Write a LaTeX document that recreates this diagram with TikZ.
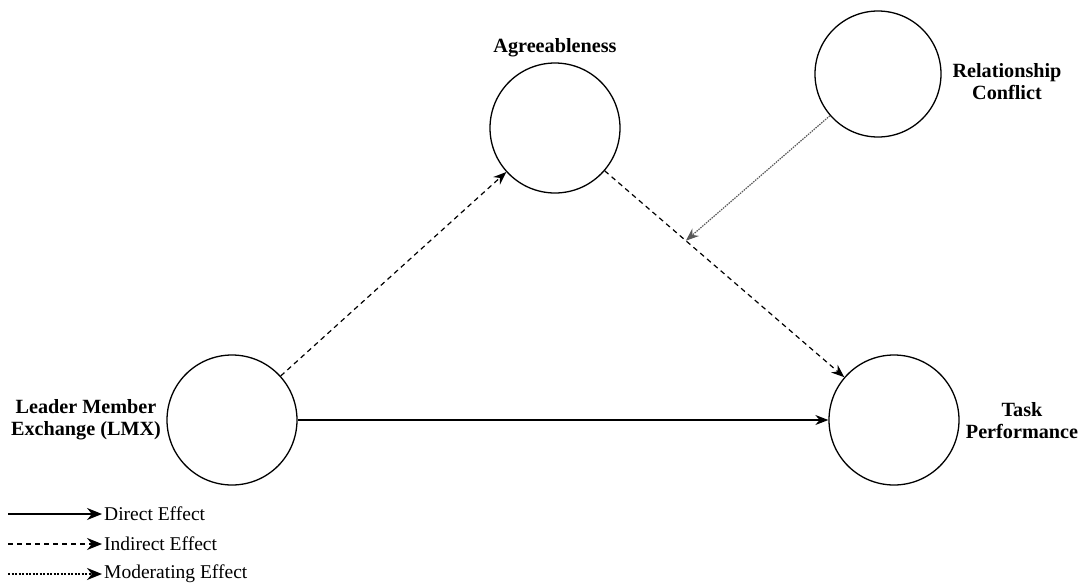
\documentclass[tikz,border=0pt]{standalone}
\usepackage{fontspec}
\setmainfont{Liberation Serif}
\newfontfamily\timesfont{Liberation Serif}
\usepackage{tikz}
\usetikzlibrary{calc,arrows.meta}

\tikzset{
  construct/.style={draw,circle,line width=1.3pt,minimum size=130pt,inner sep=0pt},
  clabel/.style={font=\timesfont\fontsize{20.2}{22}\selectfont\bfseries,align=center},
  ltext/.style={font=\timesfont\fontsize{19.5}{22}\selectfont,anchor=west,inner sep=2pt},
  direct/.style={->,line width=1.2pt},
  indirect/.style={->,line width=1.2pt,dash pattern=on 5pt off 4pt},
  moderating/.style={->,line width=1.2pt,gray!70!black,dash pattern=on 1.5pt off 1pt},
  >={Stealth[length=13pt,width=10pt]}
}

\begin{document}
\begin{tikzpicture}[x=1pt,y=-1pt]
  \useasboundingbox (0,0) rectangle (1080,584);

  % constructs
  \node[construct] (lmx)   at (232,420) {};
  \node[construct] (agree) at (555,128) {};
  \node[construct] (task)  at (894,420) {};
  \node[construct,minimum size=126pt] (rc) at (878,74) {};

  % labels
  \node[clabel] (lmxlab)   at (86,420)  {Leader Member\\Exchange (LMX)};
  \node[clabel] (agreelab) at (555,48)  {Agreeableness};
  \node[clabel] (tasklab)  at (1022,421) {Task\\Performance};
  \node[clabel] (rclab)    at (1007,82) {Relationship\\Conflict};

  % paths
  \draw[direct] (lmx) -- (task);
  \draw[indirect] (lmx) -- (agree);
  \draw[indirect] (agree) -- (task);
  \coordinate (modpt) at ($(agree)!0.386!(task)$);
  \draw[moderating] (rc) -- (modpt);

  % legend
  \coordinate (d0) at (8,514);
  \coordinate (i0) at (8,544);
  \coordinate (m0) at (8,574);
  \node[ltext] (dlab) at (102,514) {Direct Effect};
  \node[ltext] (ilab) at (102,544) {Indirect Effect};
  \node[ltext] (mlab) at (102,574) {Moderating Effect};
  \draw[direct,>={Stealth[length=15pt,width=12pt]}] (d0) -- (dlab.west);
  \draw[indirect,>={Stealth[length=15pt,width=12pt]}] (i0) -- (ilab.west);
  \draw[moderating,black,line width=2pt,dash pattern=on 2pt off 1.5pt,>={Stealth[length=15pt,width=12pt]}] (m0) -- (mlab.west);
\end{tikzpicture}
\end{document}
